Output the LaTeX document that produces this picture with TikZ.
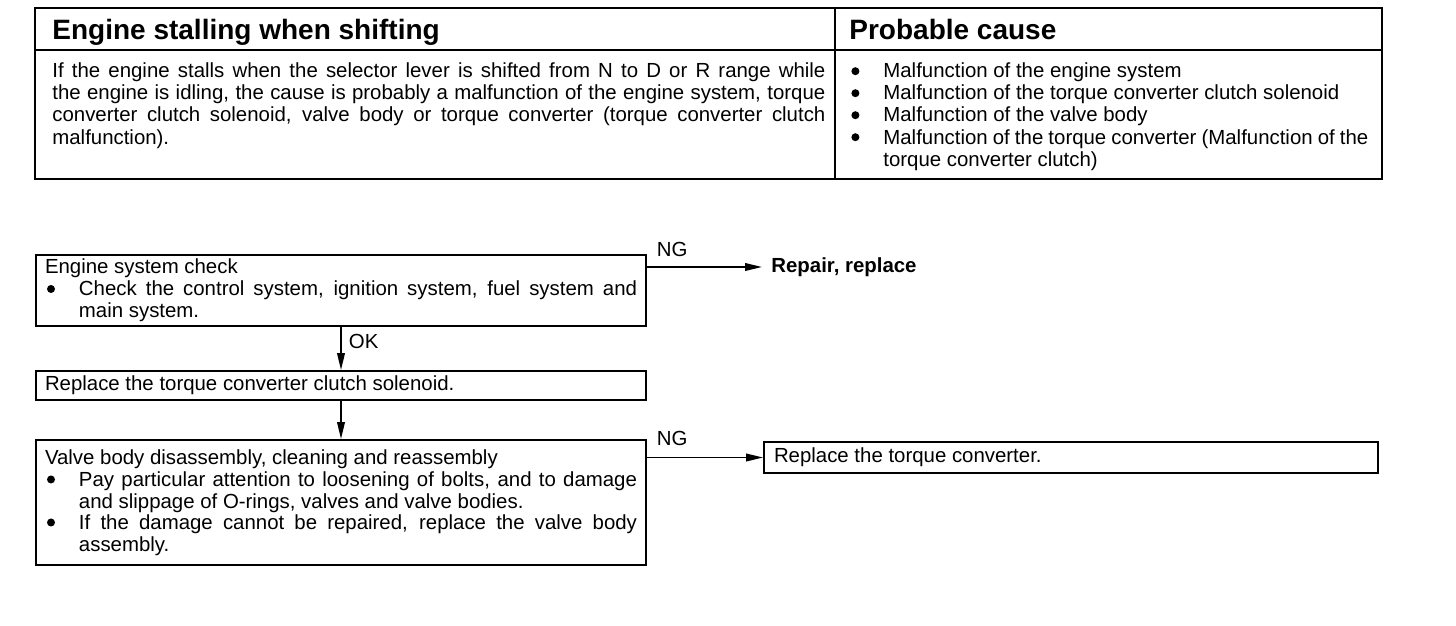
\documentclass[tikz,border=0pt]{standalone}
\usepackage{fontspec}
\setmainfont{Liberation Sans}
\usetikzlibrary{arrows.meta}
\newcommand\mybul{\makebox[17pt][l]{\hspace{1pt}\tikz[baseline={(0pt,-3.4pt)}]\fill (0pt,0pt) circle (2pt);}}
\newcommand\bfirst[1]{\noindent\mybul\parbox[t]{\dimexpr\hsize-17pt\relax}{#1}}
\newcommand\bitem[1]{\par\bfirst{#1}}
\begin{document}
\begin{tikzpicture}[x=0.5pt,y=-0.5pt,
  font=\fontsize{10.2}{11}\selectfont,
  box/.style={draw, line width=0.9pt, rectangle, inner xsep=4.5pt, inner ysep=0pt,
    text width=296pt, align=justify},
  arr/.style={line width=0.9pt, -{Triangle[length=8.5pt,width=3.8pt]}},
  head/.style={font=\fontsize{14}{16}\selectfont\bfseries, inner sep=0pt, anchor=base west},
  body/.style={inner sep=0pt, anchor=base west, align=justify},
  lab/.style={inner sep=0pt}]
\useasboundingbox (0,0) rectangle (1456,626);
% table
\draw[line width=1.3pt] (35,8) rectangle (1382,179);
\draw[line width=0.9pt] (35,50) -- (1382,50);
\draw[line width=0.9pt] (835,8) -- (835,179);
\node[head] (h1) at (52,40) {Engine stalling when shifting};
\node[head] (h2) at (849,40) {Probable cause};
\node[body, text width=386.5pt] (d1) at (52,78) {If the engine stalls when the selector lever is shifted from N to D or R range while\linebreak
the engine is idling, the cause is probably a malfunction of the engine system, torque\linebreak
converter clutch solenoid, valve body or torque converter (torque converter clutch\linebreak
malfunction).};
\node[body, text width=259.5pt] (d2) at (849,78) {\bfirst{Malfunction of the engine system}%
\bitem{Malfunction of the torque converter clutch solenoid}%
\bitem{Malfunction of the valve body}%
\bitem{Malfunction of the torque converter (Malfunction of the\linebreak torque converter clutch)}};
% flow
\node[box, minimum height=35.5pt] (b1) at (341,290.5) {Engine system check%
\bitem{Check the control system, ignition system, fuel system and\linebreak main system.}};
\node[box, minimum height=14.5pt] (b2) at (341,385.5) {Replace the torque converter clutch solenoid.};
\node[box, minimum height=62.5pt] (b3) at (341,502.5) {Valve body disassembly, cleaning and reassembly%
\bitem{Pay particular attention to loosening of bolts, and to damage\linebreak and slippage of O-rings, valves and valve bodies.}%
\bitem{If the damage cannot be repaired, replace the valve body\linebreak assembly.}};
\node[box, inner xsep=5pt, text width=297pt, minimum height=15.5pt] (b4) at (1071,457.5) {Replace the torque converter.};
\node[anchor=west, inner xsep=4.5pt, inner ysep=0pt, font=\fontsize{10.2}{11}\selectfont\bfseries] (rep) at (762,267) {Repair, replace};
% connectors
\draw[arr] (b1.east |- rep.west) -- node[lab, pos=0, anchor=south west, xshift=4.5pt, yshift=4.5pt] (ng1) {NG} (rep.west);
\draw[arr] (b1.south) -- node[lab, pos=0.33, anchor=west, xshift=3.5pt] (ok) {OK} (b2.north);
\draw[arr] (b2.south) -- (b3.north);
\draw[arr] (b3.east |- b4.west) -- node[lab, pos=0, anchor=south west, xshift=4.5pt, yshift=5.5pt] (ng2) {NG} (b4.west);
\end{tikzpicture}
\end{document}
